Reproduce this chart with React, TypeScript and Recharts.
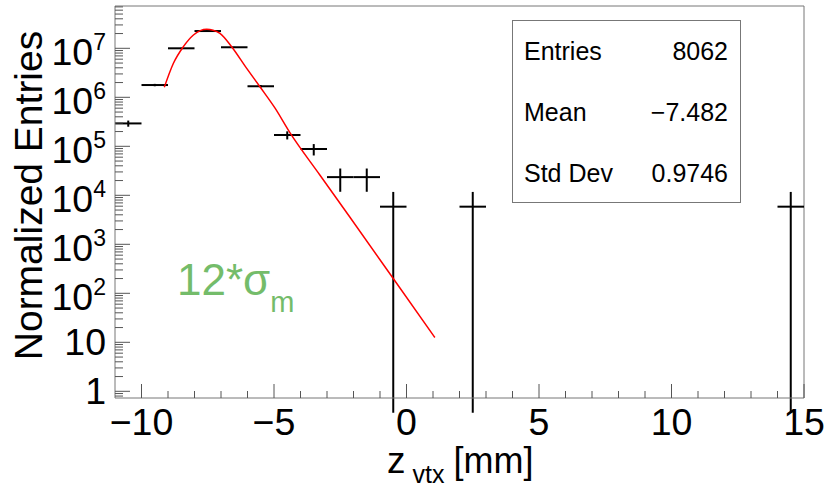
import React from 'react';
import { ComposedChart, XAxis, YAxis, Scatter, Line, ErrorBar, ReferenceLine } from 'recharts';

const FONT = '"Liberation Sans", Arial, Helvetica, sans-serif';

// histogram bins (bin width 1 mm)
const binCenters = [-10.5, -9.5, -8.5, -7.5, -6.5, -5.5, -4.5, -3.5, -2.5, -1.5, -0.5, 2.5, 14.5];
const binContents = [2.93e5, 1.78e6, 1.0e7, 2.25e7, 1.05e7, 1.68e6, 1.7e5, 8.8e4, 2.35e4, 2.35e4, 5.86e3, 5.86e3, 5.86e3];
const binErrors = [4.2e4, 1.0e5, 2.4e5, 3.6e5, 2.5e5, 1.0e5, 3.2e4, 2.3e4, 1.17e4, 1.17e4, 5.86e3, 5.86e3, 5.86e3];
const binWidth = 1;

// red fit curve, sampled along the drawn line
const fitX = [-9.14, -8.8, -8.42, -8.04, -7.78, -7.54, -7.3, -7.04, -6.6, -6.03, -5.53, -4.96, -4.4, -3.27, -2.14, -0.5, 1.07];
const fitY = [1.6e6, 4.9e6, 1.08e7, 1.87e7, 2.3e7, 2.44e7, 2.34e7, 2.02e7, 1.08e7, 3.9e6, 1.64e6, 6.0e5, 1.9e5, 2.6e4, 3.6e3, 200, 12.5];

const xMajorTicks = [-10, -5, 0, 5, 10, 15];
const xTickLabels = ['\u221210', '\u22125', '0', '5', '10', '15'];
const yMajorTicks = [1, 10, 100, 1e3, 1e4, 1e5, 1e6, 1e7];
const yTickLabels = ['1', '10', '10^2', '10^3', '10^4', '10^5', '10^6', '10^7'];

const statNames = ['Entries', 'Mean', 'Std Dev'];
const statValues = ['8062', '\u22127.482', '0.9746'];

const X_MIN = -11;
const X_MAX = 15;
const Y_MIN = 0.73;
const Y_MAX = 7.3e7;

const xTicks: number[] = [];
for (let v = -10; v <= 15; v++) xTicks.push(v);

const yTicks: number[] = [];
for (let d = 0.1; d <= 1e7 * 1.01; d *= 10) {
  for (let m = 1; m <= 9; m++) {
    const v = Math.round(m * d * 1e6) / 1e6;
    if (v >= Y_MIN && v <= Y_MAX) yTicks.push(v);
  }
}

const histData = binCenters.map((x, i) => ({
  x,
  y: binContents[i],
  xErr: binWidth / 2,
  // an error reaching zero can't sit on a log axis, so let it run off the bottom
  yErr: [Math.min(binErrors[i], binContents[i] - Y_MIN / 2), binErrors[i]],
}));

const fitData = fitX.map((x, i) => ({ x, y: fitY[i] }));

const XTick = ({ x, y, payload }: any) => {
  const i = xMajorTicks.indexOf(payload.value);
  const major = i >= 0;
  return (
    <g>
      <line x1={x} x2={x} y1={y} y2={y - (major ? 14 : 7)} stroke="#555" />
      {major && (
        <text x={x} y={y + 37} textAnchor="middle" fontSize={37.5} fontFamily={FONT} fill="#000">
          {xTickLabels[i]}
        </text>
      )}
    </g>
  );
};

const YTick = ({ x, y, payload }: any) => {
  const v = payload.value;
  const i = yMajorTicks.findIndex((t) => Math.abs(t - v) < t * 1e-6);
  const major = i >= 0;
  let label = null;
  if (major) {
    const [base, exp] = yTickLabels[i].split('^');
    label = (
      <text x={x - 9} y={y + (exp ? 16.5 : 13)} textAnchor="end" fontSize={37.5} fontFamily={FONT} fill="#000">
        {base}
        {exp && (
          <tspan dy={-15} fontSize={23}>
            {exp}
          </tspan>
        )}
      </text>
    );
  }
  return (
    <g>
      <line x1={x} x2={x + (major ? 15 : 8)} y1={y} y2={y} stroke="#555" />
      {label}
    </g>
  );
};

export default function App() {
  return (
    <div style={{ position: 'absolute', left: 0, top: 0, width: 828, height: 487, background: '#fff' }}>
      <ComposedChart width={828} height={487} margin={{ top: 6, right: 24, bottom: 0, left: 0 }}>
        <XAxis
          type="number"
          dataKey="x"
          domain={[X_MIN, X_MAX]}
          allowDataOverflow
          ticks={xTicks}
          interval={0}
          tick={(p: any) => <XTick {...p} />}
          tickLine={false}
          tickSize={0}
          tickMargin={0}
          axisLine={{ stroke: '#777' }}
          height={89}
        />
        <YAxis
          type="number"
          scale="log"
          domain={[Y_MIN, Y_MAX]}
          allowDataOverflow
          ticks={yTicks}
          interval={0}
          tick={(p: any) => <YTick {...p} />}
          tickLine={false}
          tickSize={0}
          tickMargin={0}
          axisLine={{ stroke: '#777' }}
          width={115}
        />
        <ReferenceLine x={X_MAX} stroke="#777" ifOverflow="visible" />
        <ReferenceLine y={Y_MAX} stroke="#777" ifOverflow="visible" />
        <Scatter data={histData} dataKey="y" shape={() => <g />} isAnimationActive={false}>
          <ErrorBar dataKey="xErr" direction="x" width={0} stroke="#000" strokeWidth={2} isAnimationActive={false} />
          <ErrorBar dataKey="yErr" direction="y" width={0} stroke="#000" strokeWidth={2} isAnimationActive={false} />
        </Scatter>
        <Line
          data={fitData}
          dataKey="y"
          type="monotone"
          stroke="#ff0000"
          strokeWidth={1.5}
          dot={false}
          activeDot={false}
          isAnimationActive={false}
        />
      </ComposedChart>

      <svg
        width={828}
        height={487}
        style={{ position: 'absolute', left: 0, top: 0, pointerEvents: 'none' }}
        fontFamily={FONT}
      >
        <text transform="translate(42,195.5) rotate(-90)" textAnchor="middle" fontSize={39} fill="#000">
          Normalized Entries
        </text>
        <text x={387} y={473} fontSize={37} fill="#000">
          z
          <tspan dx={7} dy={10} fontSize={25}>
            vtx
          </tspan>
          <tspan dx={9} dy={-10} fontSize={36}>
            [mm]
          </tspan>
        </text>
        <text x={177} y={295} fontSize={44} fill="#74bc6a">
          12*σ
          <tspan dy={16.5} fontSize={29}>
            m
          </tspan>
        </text>
        <rect x={512.5} y={20.5} width={228} height={182} fill="#fff" stroke="#777" />
        {statNames.map((name, i) => (
          <g key={name}>
            <text x={524} y={60 + i * 60.8} fontSize={25} fill="#000">
              {name}
            </text>
            <text x={728} y={60 + i * 60.8} fontSize={25} textAnchor="end" fill="#000">
              {statValues[i]}
            </text>
          </g>
        ))}
      </svg>
    </div>
  );
}
